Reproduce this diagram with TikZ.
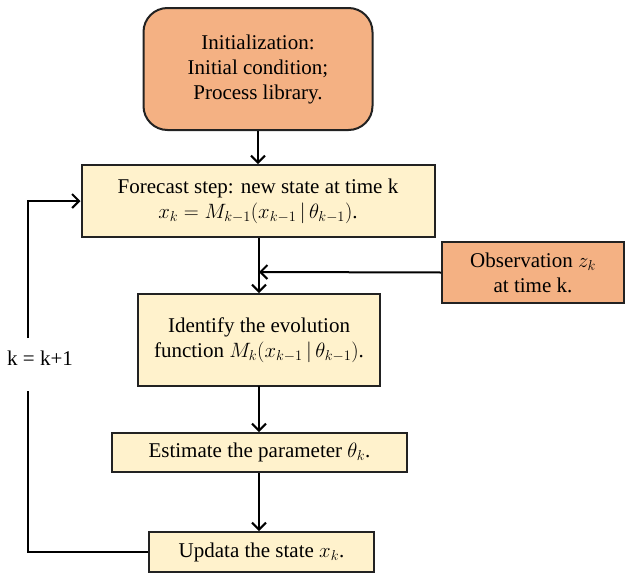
\documentclass[tikz,border=0pt]{standalone}
\usepackage{fontspec}
\setmainfont{Liberation Serif}
\usetikzlibrary{arrows.meta}
\definecolor{boxorange}{HTML}{F4B183}
\definecolor{boxyellow}{HTML}{FFF2CC}
\definecolor{edge}{HTML}{222222}
\tikzset{
  base/.style={draw=edge, line width=2pt, align=center, inner sep=2pt,
    font=\fontsize{21}{25}\selectfont, text=black},
  orangebox/.style={base, fill=boxorange},
  yellowbox/.style={base, fill=boxyellow},
  conn/.style={line width=2pt, draw=black, -{Straight Barb[length=7pt,width=14pt,line width=2pt]}},
  plainline/.style={line width=2pt, draw=black}
}
\begin{document}
\begin{tikzpicture}[x=1pt,y=-1pt]
\useasboundingbox (0,0) rectangle (625,576);
\node[orangebox, rounded corners=24pt, minimum width=229pt, minimum height=122pt] (init) at (258,69)
  {Initialization:\\Initial condition;\\Process library.};
\node[yellowbox, minimum width=353pt, minimum height=72pt] (fc) at (258,201)
  {Forecast step: new state at time k\\$x_k = M_{k-1}(x_{k-1}\,|\,\theta_{k-1})$.};
\node[orangebox, minimum width=182pt, minimum height=61pt] (obs) at (533,272.5)
  {Observation $z_k$\\at time k.};
\node[yellowbox, minimum width=242pt, minimum height=92pt] (idf) at (259,340)
  {Identify the evolution\\function $M_k(x_{k-1}\,|\,\theta_{k-1})$.};
\node[yellowbox, minimum width=295pt, minimum height=39pt] (est) at (259.5,452.5)
  {Estimate the parameter $\theta_k$.};
\node[yellowbox, minimum width=225pt, minimum height=40pt] (upd) at (261.5,552)
  {Updata the state $x_k$.};
\node[font=\fontsize{21}{25}\selectfont, inner sep=0pt] (klab) at (40,358) {k = k+1};
\coordinate (j) at (259,272);
\coordinate (lb) at (28,552);
\coordinate (lg1) at (28,391);
\coordinate (lg2) at (28,338);
\coordinate (lt) at (28,201);
\draw[conn] (init.south -| 258,0) -- (fc.north -| 258,0);
\draw[conn] (fc.south -| j) -- (idf.north -| j);
\draw[conn] (obs.west) -- (j);
\draw[conn] (est.north -| j) ++(0,-46) -- (est.north -| j);
\draw[conn] (est.south -| j) -- (upd.north -| j);
\draw[plainline] (upd.west) -- (lb) -- (lg1);
\draw[conn] (lg2) -- (lt) -- (fc.west);
\end{tikzpicture}
\end{document}
